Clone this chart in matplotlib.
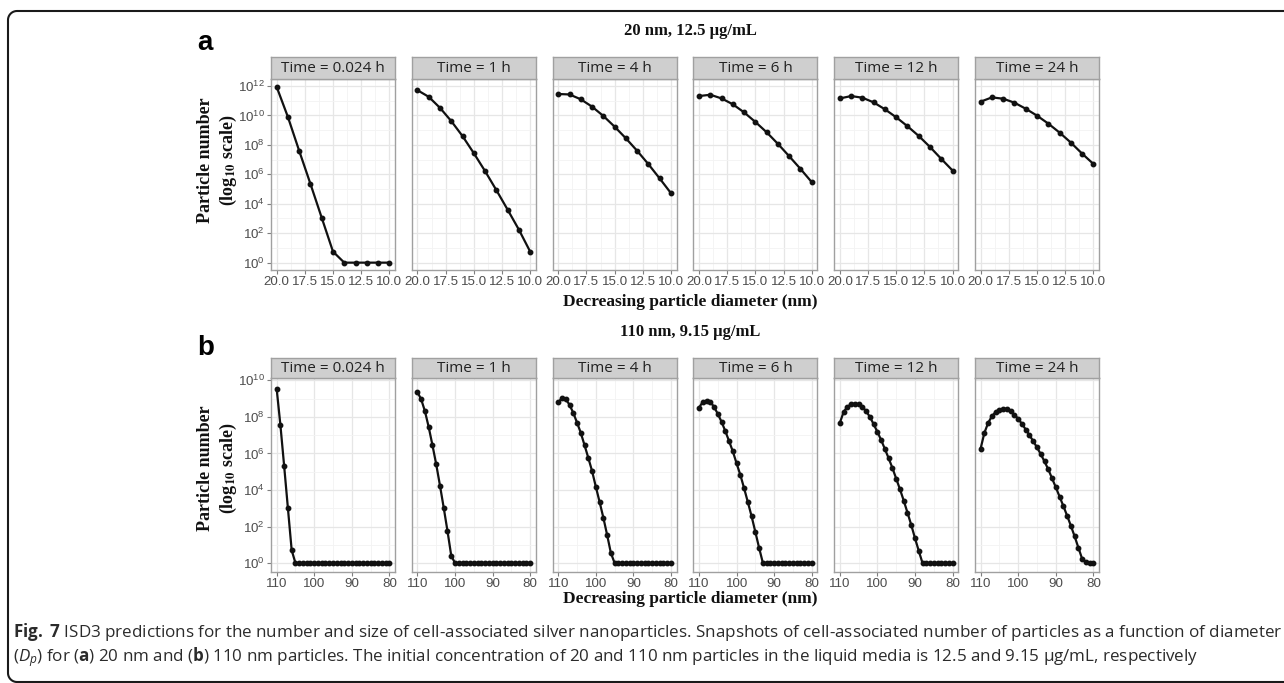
import numpy as np
import matplotlib
matplotlib.use("Agg")
import matplotlib.pyplot as plt
from matplotlib.ticker import FixedLocator, FuncFormatter, NullFormatter
from matplotlib.lines import Line2D
from matplotlib import font_manager

plt.rcParams['mathtext.fontset'] = 'custom'
plt.rcParams['mathtext.rm'] = 'Open Sans'
plt.rcParams['mathtext.it'] = 'Open Sans:italic'
plt.rcParams['mathtext.bf'] = 'Open Sans:bold'

# ---------------- data ----------------
times = ["0.024", "1", "4", "6", "12", "24"]
strip_labels = ["Time = %s h" % t for t in times]

title_a = "20 nm, 12.5 µg/mL"
title_b = "110 nm, 9.15 µg/mL"
xlabel = "Decreasing particle diameter (nm)"

# panel a: diameters (nm) and log10(particle number)
diam_a = [20, 19, 18, 17, 16, 15, 14, 13, 12, 11, 10]
log_a_t0024 = [11.95, 9.90, 7.60, 5.35, 3.05, 0.75, 0.0, 0.0, 0.0, 0.0, 0.0]
log_a_t1 = [11.72, 11.27, 10.52, 9.62, 8.60, 7.44, 6.22, 4.93, 3.60, 2.24, 0.75]
log_a_t4 = [11.46, 11.43, 11.10, 10.60, 9.97, 9.24, 8.45, 7.60, 6.69, 5.72, 4.72]
log_a_t6 = [11.32, 11.41, 11.16, 10.76, 10.21, 9.56, 8.86, 8.07, 7.23, 6.37, 5.47]
log_a_t12 = [11.16, 11.32, 11.21, 10.89, 10.42, 9.88, 9.27, 8.61, 7.86, 7.05, 6.26]
log_a_t24 = [10.94, 11.23, 11.14, 10.87, 10.46, 9.99, 9.45, 8.84, 8.16, 7.41, 6.71]

# panel b
diam_b = [110, 109, 108, 107, 106, 105, 104, 103, 102, 101, 100,
          99, 98, 97, 96, 95, 94, 93, 92, 91, 90,
          89, 88, 87, 86, 85, 84, 83, 82, 81, 80]
log_b_t0024 = [9.55, 7.56, 5.31, 3.00, 0.71, 0, 0, 0, 0, 0, 0,
               0, 0, 0, 0, 0, 0, 0, 0, 0, 0,
               0, 0, 0, 0, 0, 0, 0, 0, 0, 0]
log_b_t1 = [9.36, 8.96, 8.31, 7.44, 6.45, 5.40, 4.24, 3.02, 1.75, 0.40, 0,
            0, 0, 0, 0, 0, 0, 0, 0, 0, 0,
            0, 0, 0, 0, 0, 0, 0, 0, 0, 0]
log_b_t4 = [8.80, 9.04, 8.96, 8.67, 8.22, 7.69, 7.13, 6.45, 5.76, 5.04, 4.18,
            3.35, 2.49, 1.55, 0.56, 0, 0, 0, 0, 0, 0,
            0, 0, 0, 0, 0, 0, 0, 0, 0, 0]
log_b_t6 = [8.51, 8.82, 8.89, 8.82, 8.55, 8.16, 7.73, 7.22, 6.67, 6.11, 5.45,
            4.82, 4.09, 3.33, 2.55, 1.69, 0.82, 0, 0, 0, 0,
            0, 0, 0, 0, 0, 0, 0, 0, 0, 0]
log_b_t12 = [7.67, 8.27, 8.55, 8.69, 8.73, 8.69, 8.55, 8.31, 8.00, 7.60, 7.18,
             6.73, 6.24, 5.73, 5.20, 4.62, 4.04, 3.42, 2.76, 2.09, 1.36,
             0.67, 0, 0, 0, 0, 0, 0, 0, 0, 0]
log_b_t24 = [6.27, 7.13, 7.67, 8.04, 8.27, 8.40, 8.45, 8.44, 8.31, 8.13, 7.89,
             7.62, 7.31, 7.00, 6.67, 6.33, 5.96, 5.56, 5.13, 4.64, 4.15,
             3.64, 3.13, 2.60, 2.05, 1.47, 0.85, 0.24, 0.05, 0, 0]

series_a = [log_a_t0024, log_a_t1, log_a_t4, log_a_t6, log_a_t12, log_a_t24]
series_b = [log_b_t0024, log_b_t1, log_b_t4, log_b_t6, log_b_t12, log_b_t24]

xticks_a = [20, 17.5, 15, 12.5, 10]
xminor_a = [18.75, 16.25, 13.75, 11.25]
yexp_a = [0, 2, 4, 6, 8, 10, 12]
yexp_minor_a = [1, 3, 5, 7, 9, 11]

xticks_b = [110, 100, 90, 80]
xminor_b = [105, 95, 85]
yexp_b = [0, 2, 4, 6, 8, 10]
yexp_minor_b = [1, 3, 5, 7, 9]

caption1 = (r"$\mathbf{Fig.\ 7}$ ISD3 predictions for the number and size of cell-associated silver "
            r"nanoparticles. Snapshots of cell-associated number of particles as a function of diameter")
caption2 = (r"($D_p$) for ($\mathbf{a}$) 20 nm and ($\mathbf{b}$) 110 nm particles. The initial concentration "
            r"of 20 and 110 nm particles in the liquid media is 12.5 and 9.15 µg/mL, respectively")

# ---------------- layout ----------------
W, H = 1284, 683
fig = plt.figure(figsize=(W / 100, H / 100), dpi=100)

installed = {f.name for f in font_manager.fontManager.ttflist}
NARROW = 'Liberation Sans Narrow' if 'Liberation Sans Narrow' in installed else 'Liberation Sans'
TICKSIZE = 10.5 if NARROW == 'Liberation Sans Narrow' else 9.6


def ax_px(x0, y0, x1, y1):
    return fig.add_axes([x0 / W, 1 - y1 / H, (x1 - x0) / W, (y1 - y0) / H])


lefts = [271, 411.8, 552.6, 693.4, 834.2, 975]
fw = 124
BORDER = '#a0a0a0'
TICKC = '#4d4d4d'
SERIF = 'Liberation Serif'


def log_fmt(v, pos):
    return r'$\mathdefault{10^{%d}}$' % int(round(np.log10(v)))


def make_row(series, diam, strip_top, strip_bot, pan_bot, xlim, ylim_exp,
             xt, xm, ye, yem, xfmt):
    for i in range(6):
        x0 = lefts[i]
        ax = ax_px(x0, strip_bot, x0 + fw, pan_bot)
        ax.set_facecolor('white')
        ax.set_yscale('log')
        ax.plot(diam, 10.0 ** np.array(series[i]), '-o', color='#111111',
                lw=1.6, ms=3.2, mec='#111111', zorder=3)
        ax.set_xlim(*xlim)
        ax.set_ylim(10.0 ** ylim_exp[0], 10.0 ** ylim_exp[1])
        ax.xaxis.set_major_locator(FixedLocator(xt))
        ax.xaxis.set_minor_locator(FixedLocator(xm))
        ax.yaxis.set_major_locator(FixedLocator([10.0 ** e for e in ye]))
        ax.yaxis.set_minor_locator(FixedLocator([10.0 ** e for e in yem]))
        ax.xaxis.set_major_formatter(FuncFormatter(xfmt))
        ax.xaxis.set_minor_formatter(NullFormatter())
        ax.yaxis.set_minor_formatter(NullFormatter())
        if i == 0:
            ax.yaxis.set_major_formatter(FuncFormatter(log_fmt))
        else:
            ax.yaxis.set_major_formatter(NullFormatter())
        ax.grid(which='major', color='#e6e6e6', lw=0.9)
        ax.grid(which='minor', color='#f3f3f3', lw=0.6)
        ax.set_axisbelow(True)
        for s in ax.spines.values():
            s.set_color(BORDER)
            s.set_linewidth(1.0)
        ax.tick_params(which='major', length=3, width=0.8, color='#7f7f7f',
                       labelcolor=TICKC, labelsize=TICKSIZE, pad=1.5)
        ax.tick_params(which='minor', length=0)
        if i != 0:
            ax.tick_params(axis='y', which='major', length=0)
        for lab in ax.get_xticklabels() + ax.get_yticklabels():
            lab.set_fontfamily(NARROW)
        # strip
        sa = ax_px(x0, strip_top, x0 + fw, strip_bot)
        sa.set_facecolor('#cfcfcf')
        sa.set_xticks([])
        sa.set_yticks([])
        for s in sa.spines.values():
            s.set_color(BORDER)
            s.set_linewidth(1.0)
        sa.text(0.5, 0.47, strip_labels[i], ha='center', va='center',
                fontsize=11, color='#222222', family='Open Sans',
                transform=sa.transAxes)


make_row(series_a, diam_a, 57, 79, 270, (20.5, 9.5), (-0.5, 12.48),
         xticks_a, xminor_a, yexp_a, yexp_minor_a, lambda v, p: '%.1f' % v)
make_row(series_b, diam_b, 358, 378, 572, (111.5, 78.5), (-0.49, 10.13),
         xticks_b, xminor_b, yexp_b, yexp_minor_b, lambda v, p: '%d' % v)


def ftext(x, y, s, **kw):
    return fig.text(x / W, 1 - y / H, s, **kw)


# titles and labels
ftext(690, 31, title_a, ha='center', va='center', family=SERIF,
      weight='bold', fontsize=12, color='#111111')
ftext(690, 332, title_b, ha='center', va='center', family=SERIF,
      weight='bold', fontsize=12, color='#111111')
ftext(690, 302, xlabel, ha='center', va='center', family=SERIF,
      weight='bold', fontsize=12.5, color='#111111')
ftext(690, 599, xlabel, ha='center', va='center', family=SERIF,
      weight='bold', fontsize=12.5, color='#111111')
ftext(197, 50, 'a', ha='left', va='baseline', family='Liberation Sans',
      weight='bold', fontsize=20, color='black')
ftext(197, 355, 'b', ha='left', va='baseline', family='Liberation Sans',
      weight='bold', fontsize=20, color='black')
for yc in (160, 468):
    ftext(205, yc, 'Particle number', ha='center', va='center', rotation=90,
          family=SERIF, weight='bold', fontsize=13, color='#111111')
    ftext(228, yc, r'(log$_{\mathbf{10}}$ scale)', ha='center', va='center',
          rotation=90, family=SERIF, weight='bold', fontsize=13,
          color='#111111', math_fontfamily='stix')

# caption (fit width)
c1 = ftext(13, 632, caption1, ha='left', va='center', family='Open Sans',
           fontsize=11, color='#2b2b2b')
c2 = ftext(13, 657, caption2, ha='left', va='center', family='Open Sans',
           fontsize=11, color='#2b2b2b')
fig.canvas.draw()
r = fig.canvas.get_renderer()
w1 = c1.get_window_extent(r).width
scale = 1266.0 / w1
c1.set_fontsize(11 * scale)
c2.set_fontsize(11 * scale)

# rounded frame (open to the right)
rad = 9
x_l, y_t, y_b = 8, 11, 682
ang1 = np.linspace(np.pi / 2, np.pi, 12)
ang2 = np.linspace(np.pi, 1.5 * np.pi, 12)
xs = [W + 5, x_l + rad] + list(x_l + rad + rad * np.cos(ang1)) + \
     list(x_l + rad + rad * np.cos(ang2)) + [x_l + rad, W + 5]
ys = [y_t, y_t] + list(y_t + rad - rad * np.sin(ang1)) + \
     list(y_b - rad - rad * np.sin(ang2)) + [y_b, y_b]
fig.add_artist(Line2D(np.array(xs) / W, 1 - np.array(ys) / H,
                      transform=fig.transFigure, color='#1a1a1a', lw=1.5))

fig.savefig('out.png', dpi=100)
